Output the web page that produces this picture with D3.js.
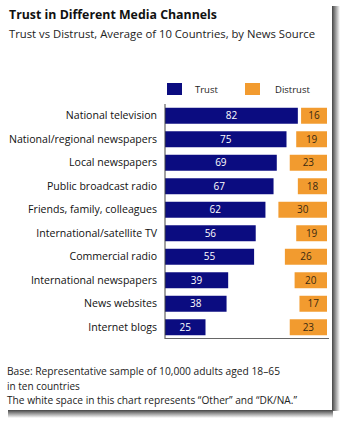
<!DOCTYPE html>
<html><head><meta charset="utf-8">
<script src="https://cdn.jsdelivr.net/npm/d3@7"></script>
<style>html,body{margin:0;padding:0;background:#fff;}svg{display:block;}</style>
</head><body>
<script>
const categories = ["National television","National/regional newspapers","Local newspapers","Public broadcast radio","Friends, family, colleagues","International/satellite TV","Commercial radio","International newspapers","News websites","Internet blogs"];
const trust = [82,75,69,67,62,56,55,39,38,25];
const distrust = [16,19,23,18,30,19,26,20,17,23];
const seriesNames = ["Trust","Distrust"];
const colors = ["#0b0c80","#f29b2f"];
const titleText = "Trust in Different Media Channels";
const subtitleText = "Trust vs Distrust, Average of 10 Countries, by News Source";
const notes = ["Base: Representative sample of 10,000 adults aged 18\u201365","in ten countries","The white space in this chart represents \u201cOther\u201d and \u201cDK/NA.\u201d"];

const W = 344, H = 422;
const font = "'Open Sans', 'Noto Sans', sans-serif";
const svg = d3.select("body").append("svg").attr("width", W).attr("height", H);
const defs = svg.append("defs");
const gr = defs.append("linearGradient").attr("id","shR");
gr.append("stop").attr("offset","0%").attr("stop-color","#444");
gr.append("stop").attr("offset","100%").attr("stop-color","#fff");
const gb = defs.append("linearGradient").attr("id","shB").attr("x1",0).attr("y1",0).attr("x2",0).attr("y2",1);
gb.append("stop").attr("offset","0%").attr("stop-color","#444");
gb.append("stop").attr("offset","100%").attr("stop-color","#fff");

// card shadow
svg.append("rect").attr("x",332).attr("y",6).attr("width",8).attr("height",405).attr("fill","url(#shR)");
svg.append("rect").attr("x",8).attr("y",410).attr("width",325).attr("height",8).attr("fill","url(#shB)");
svg.append("rect").attr("x",0).attr("y",0).attr("width",332).attr("height",410).attr("fill","#fff");

svg.append("text").attr("x",9).attr("y",19).attr("font-family",font).attr("font-weight","bold")
  .attr("font-size",13).attr("fill","#111").attr("textLength",208).attr("lengthAdjust","spacingAndGlyphs").text(titleText);
svg.append("text").attr("x",9).attr("y",38).attr("font-family",font)
  .attr("font-size",11.5).attr("fill","#222").attr("textLength",306).attr("lengthAdjust","spacingAndGlyphs").text(subtitleText);

const x0 = 165;
const x = d3.scaleLinear().domain([0,100]).range([x0, 327]);
const y = d3.scaleBand().domain(categories).range([104, 339]).paddingInner(0.32).paddingOuter(0.16);

// legend
const leg = [{x:167,tx:195},{x:245,tx:275}];
seriesNames.forEach((s,i)=>{
  svg.append("rect").attr("x",leg[i].x).attr("y",83).attr("width",15).attr("height",12).attr("fill",colors[i]);
  svg.append("text").attr("x",leg[i].tx).attr("y",93).attr("font-family",font).attr("font-size",9.5).attr("fill","#222").text(s);
});

const g = svg.append("g");
g.selectAll("rect.t").data(categories).join("rect").attr("class","t")
  .attr("x",x(0)).attr("y",d=>y(d)).attr("width",(d,i)=>x(trust[i])-x(0)).attr("height",y.bandwidth()).attr("fill",colors[0]);
g.selectAll("rect.d").data(categories).join("rect").attr("class","d")
  .attr("x",(d,i)=>x(100-distrust[i])).attr("y",d=>y(d)).attr("width",(d,i)=>x(100)-x(100-distrust[i])).attr("height",y.bandwidth()).attr("fill",colors[1]);
g.selectAll("text.tv").data(categories).join("text").attr("class","tv")
  .attr("x",(d,i)=>(x(0)+x(trust[i]))/2).attr("y",d=>y(d)+y.bandwidth()/2+3.5).attr("text-anchor","middle")
  .attr("font-family",font).attr("font-size",10).attr("fill","#fff").text((d,i)=>trust[i]);
g.selectAll("text.dv").data(categories).join("text").attr("class","dv")
  .attr("x",(d,i)=>(x(100-distrust[i])+x(100))/2).attr("y",d=>y(d)+y.bandwidth()/2+3.5).attr("text-anchor","middle")
  .attr("font-family",font).attr("font-size",10).attr("fill","#3a2a10").text((d,i)=>distrust[i]);

// axes
const ay = d3.axisLeft(y).tickSize(0).tickPadding(8);
const yAxis = svg.append("g").attr("transform",`translate(${x0},0)`).call(ay);
yAxis.select(".domain").remove();
const labels = yAxis.selectAll("text").attr("font-family",font).attr("font-size",11.5).attr("fill","#111");
let maxW = 0;
labels.each(function(){ maxW = Math.max(maxW, this.getComputedTextLength()); });
const ratio = 148 / maxW;
labels.each(function(){ const w = this.getComputedTextLength(); d3.select(this).attr("textLength", w*ratio).attr("lengthAdjust","spacingAndGlyphs"); });

svg.append("line").attr("x1",x0).attr("x2",x0).attr("y1",104).attr("y2",339).attr("stroke","#444").attr("stroke-width",1);
svg.append("line").attr("x1",x0).attr("x2",329).attr("y1",338.5).attr("y2",338.5).attr("stroke","#666").attr("stroke-width",1);

const nl = [{y:375,w:273},{y:390,w:null},{y:404,w:290}];
notes.forEach((t,i)=>{
  const tt = svg.append("text").attr("x",7).attr("y",nl[i].y).attr("font-family",font).attr("font-size",10).attr("fill","#222").text(t);
  if(nl[i].w) tt.attr("textLength",nl[i].w).attr("lengthAdjust","spacingAndGlyphs");
});
</script>
</body></html>
